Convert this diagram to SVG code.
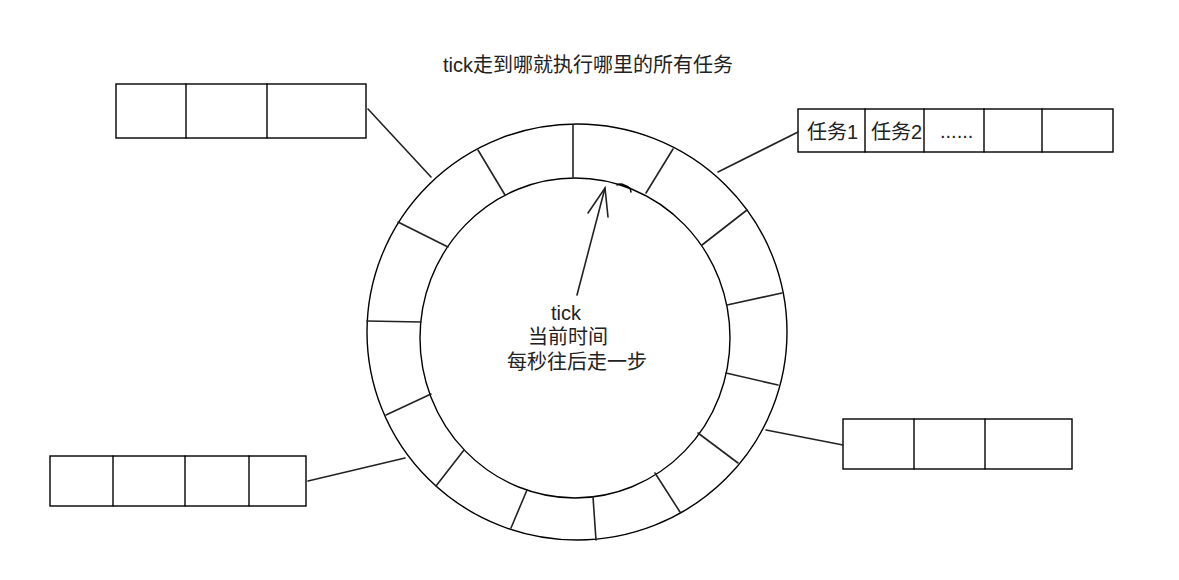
<svg xmlns="http://www.w3.org/2000/svg" width="1179" height="580" viewBox="0 0 1179 580">
<style>
.s{fill:none;stroke:#000;stroke-width:1.4;stroke-linecap:round;stroke-linejoin:round}
.b{fill:#fff;stroke:#000;stroke-width:1.4}
.g{stroke:#222;stroke-width:1.6;fill:none;stroke-linecap:round}
.t{font-family:"Liberation Sans","Noto Sans CJK SC",sans-serif;font-size:20px;fill:#222}
</style>
<rect width="1179" height="580" fill="#fff"/>
<g id="title"><text class="t" x="588" y="72" text-anchor="middle">tick走到哪就执行哪里的所有任务</text></g>
<g id="ring">
<ellipse class="s" cx="577" cy="332" rx="210" ry="208"/>
<ellipse class="s" cx="575" cy="338" rx="155" ry="160"/>
<g class="g">
<line x1="573" y1="125" x2="573" y2="177"/>
<line x1="673" y1="149" x2="646" y2="193"/>
<line x1="747" y1="210" x2="702" y2="245"/>
<line x1="782" y1="293" x2="727" y2="305"/>
<line x1="778" y1="385" x2="726" y2="373"/>
<line x1="738" y1="463" x2="698" y2="433"/>
<line x1="680" y1="512" x2="655" y2="473"/>
<line x1="596" y1="540" x2="593" y2="497"/>
<line x1="511" y1="528" x2="527" y2="490"/>
<line x1="436" y1="486" x2="464" y2="450"/>
<line x1="386" y1="415" x2="431" y2="394"/>
<line x1="367" y1="321" x2="421" y2="322"/>
<line x1="398" y1="222" x2="448" y2="247"/>
<line x1="478" y1="150" x2="505" y2="195"/>
</g>
<path class="s" d="M617,185 q4,-2 7,0 q3,1 6,3 l1,4" stroke-width="1"/>
</g>
<g id="tick-label">
<text class="t" x="566" y="320" text-anchor="middle">tick</text>
<text class="t" x="568" y="344" text-anchor="middle">当前时间</text>
<text class="t" x="577" y="369" text-anchor="middle">每秒往后走一步</text>
</g>
<g id="slot-top-left">
<rect class="b" x="116" y="84" width="250" height="54"/>
<line class="s" x1="186" y1="84" x2="186" y2="138"/>
<line class="s" x1="267" y1="84" x2="267" y2="138"/>
</g>
<g id="slot-top-right">
<rect class="b" x="798" y="109" width="315" height="43"/>
<line class="s" x1="865" y1="109" x2="865" y2="152"/>
<line class="s" x1="924" y1="109" x2="924" y2="152"/>
<line class="s" x1="984" y1="109" x2="984" y2="152"/>
<line class="s" x1="1042" y1="109" x2="1042" y2="152"/>
<text class="t" x="807" y="139">任务1</text>
<text class="t" x="871" y="139">任务2</text>
<text class="t" x="940" y="138">......</text>
</g>
<g id="slot-bottom-left">
<rect class="b" x="50" y="456" width="256" height="50"/>
<line class="s" x1="113" y1="456" x2="113" y2="506"/>
<line class="s" x1="185" y1="456" x2="185" y2="506"/>
<line class="s" x1="249" y1="456" x2="249" y2="506"/>
</g>
<g id="slot-bottom-right">
<rect class="b" x="843" y="419" width="229" height="50"/>
<line class="s" x1="914" y1="419" x2="914" y2="469"/>
<line class="s" x1="985" y1="419" x2="985" y2="469"/>
</g>
<g id="connectors" class="g">
<line x1="368" y1="109" x2="431" y2="177"/>
<line x1="798" y1="132" x2="718" y2="172"/>
<line x1="308" y1="481" x2="405" y2="458"/>
<line x1="843" y1="445" x2="766" y2="430"/>
<line x1="577" y1="295" x2="605" y2="188"/>
<path d="M588,213 L605,188 L608,217"/>
</g>
</svg>
